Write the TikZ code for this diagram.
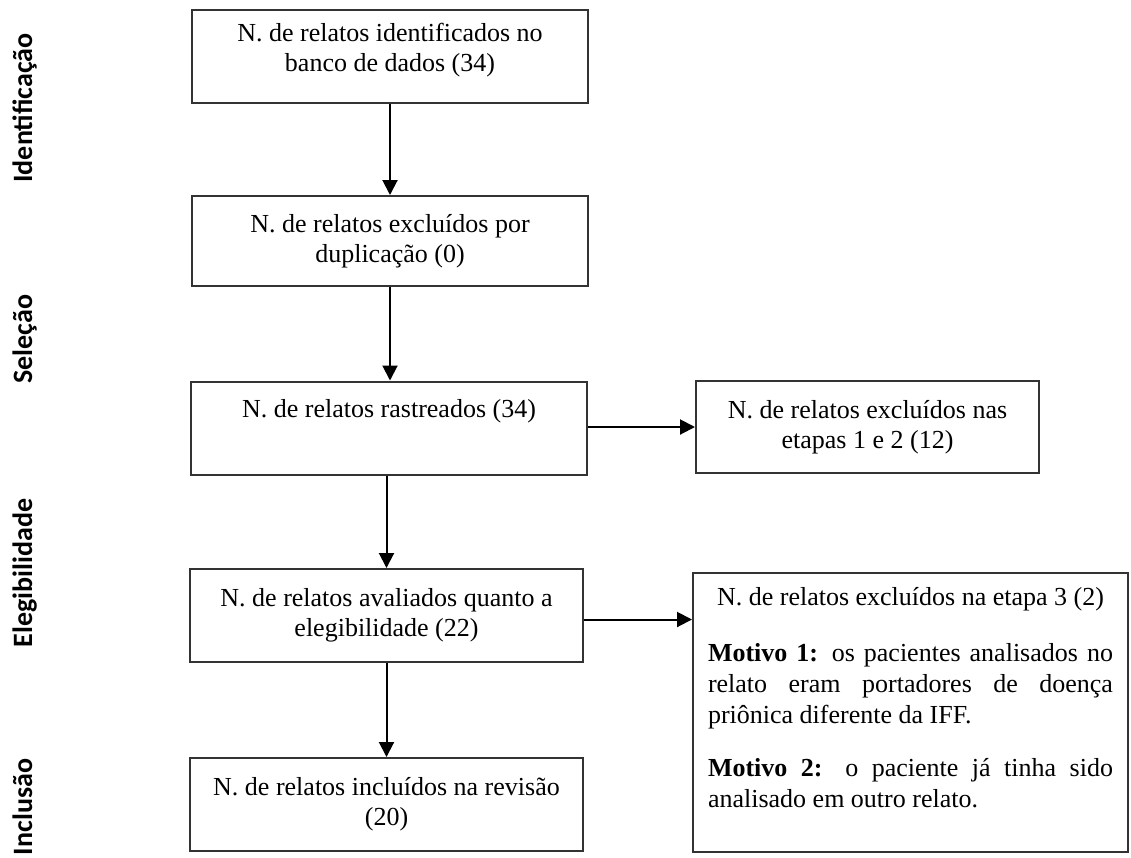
\documentclass[tikz,border=0pt]{standalone}
\usepackage{fontspec}
\setmainfont{Liberation Serif}
\newfontfamily\etapafont{Carlito}
\usetikzlibrary{
  positioning,
  calc,
  arrows.meta
}
\tikzstyle{caixa}=[draw=black!80, line width=2pt, inner sep=0pt, align=center,
  minimum width=396pt, minimum height=93pt, font=\fontsize{26}{30}\selectfont]
\tikzstyle{seta}=[-{Triangle[length=15pt,width=15pt]}, line width=2pt]
\tikzstyle{etapa}=[rotate=90, anchor=base, font=\etapafont\bfseries\fontsize{28}{30}\selectfont]

\begin{document}
\begin{tikzpicture}[x=1pt, y=-1pt]
    \useasboundingbox (0,0) rectangle (1131,857);

    % etapas
    \node[etapa] (ident) at (32,108) {Identificação};
    \node[etapa] (selec) at (32,339) {Seleção};
    \node[etapa] (elegi) at (32,573) {Elegibilidade};
    \node[etapa] (inclu) at (32,807) {Inclusão};

    % coluna principal
    \node[caixa] (banco) at (390,56) {N. de relatos identificados no\\banco de dados (34)\\[-21pt]\strut};
    \node[caixa, minimum height=90pt] (dupl) at (390,241) {N. de relatos excluídos por\\duplicação (0)};
    \node[caixa] (rastr) at (389,428) {N. de relatos rastreados (34)\\\strut};
    \node[caixa, minimum width=393pt] (aval) at (386.5,615.5) {N. de relatos avaliados quanto a\\elegibilidade (22)};
    \node[caixa, minimum width=393pt] (incl) at (386.5,804.5) {N. de relatos incluídos na revisão\\(20)};

    % exclusões
    \node[caixa, minimum width=343pt, minimum height=92pt] (excl12) at (867.5,427) {N. de relatos excluídos nas\\etapas 1 e 2 (12)};
    \node[caixa, minimum width=435pt, minimum height=279pt, text width=405pt, align=justify,
      font=\fontsize{26}{31}\selectfont] (excl3) at (910.5,712.5) {%
      \hyphenpenalty=10000
      {\centering N. de relatos excluídos na etapa 3 (2)\par}
      \vspace{25pt}
      \textbf{Motivo 1:} os pacientes analisados no\linebreak relato eram portadores de doença\linebreak priônica diferente da IFF.\par
      \vspace{22pt}
      \textbf{Motivo 2:} o paciente já tinha sido\linebreak analisado em outro relato.\par
      \mbox{}};

    % setas
    \draw[seta] (banco) -- (dupl);
    \draw[seta] (dupl.south) -- (dupl.south |- rastr.north);
    \draw[seta] (rastr.south -| aval.north) -- (aval.north);
    \draw[seta] (aval) -- (incl);
    \draw[seta] (rastr.east |- excl12) -- (excl12.west);
    \draw[seta] ($(aval.east)+(0,4)$) -- ($(aval.east -| excl3.west)+(0,4)$);
\end{tikzpicture}
\end{document}
